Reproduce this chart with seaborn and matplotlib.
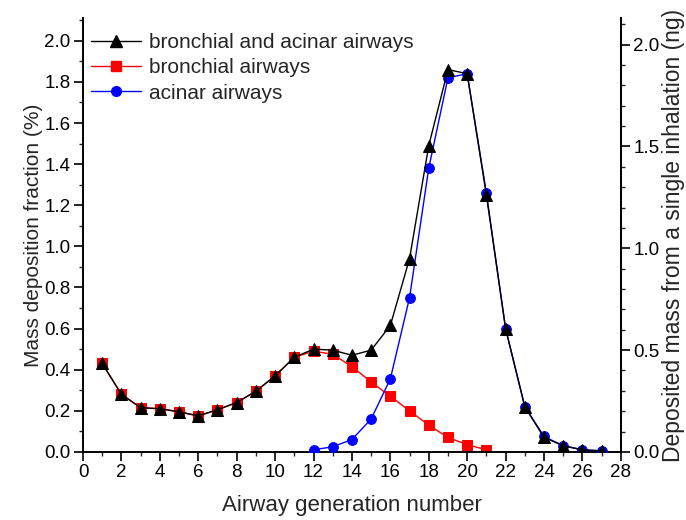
import numpy as np
import pandas as pd
import matplotlib
matplotlib.use("Agg")
import matplotlib.pyplot as plt
import seaborn as sns
from matplotlib.ticker import MultipleLocator, FormatStrFormatter
from matplotlib.lines import Line2D

sns.set_theme(style="white")
plt.rcParams['font.family'] = ['Liberation Sans', 'DejaVu Sans']

gen_total = list(range(1, 28))
total = [0.43, 0.28, 0.215, 0.21, 0.195, 0.175, 0.205, 0.24, 0.295, 0.37, 0.46,
         0.50, 0.495, 0.47, 0.495, 0.615, 0.94, 1.49, 1.86, 1.84, 1.25, 0.60,
         0.22, 0.07, 0.03, 0.01, 0.005]

gen_bronch = list(range(1, 22))
bronch = [0.43, 0.28, 0.215, 0.21, 0.195, 0.175, 0.205, 0.24, 0.295, 0.37, 0.46,
          0.49, 0.475, 0.415, 0.34, 0.27, 0.20, 0.13, 0.07, 0.035, 0.01]

gen_acinar = list(range(12, 28))
acinar = [0.01, 0.025, 0.06, 0.16, 0.355, 0.75, 1.38, 1.82, 1.84, 1.26, 0.60,
          0.22, 0.075, 0.03, 0.01, 0.005]

labels = ["bronchial and acinar airways", "bronchial airways", "acinar airways"]

fig = plt.figure(figsize=(6.86, 5.2), dpi=100)
ax = fig.add_axes([0.121, 0.131, 0.784, 0.834])

sns.lineplot(x=gen_bronch, y=bronch, ax=ax, color="#ff0000", marker="s",
             markersize=6.5, markeredgecolor="#ff0000", linewidth=1.0, zorder=2)
sns.lineplot(x=gen_acinar, y=acinar, ax=ax, color="#0000ff", marker="o",
             markersize=7, markeredgecolor="#0000ff", linewidth=1.0, zorder=3)
sns.lineplot(x=gen_total, y=total, ax=ax, color="black", marker="^",
             markersize=8, markeredgecolor="black", linewidth=1.0, zorder=4)

ax.set_xlim(0, 28)
ax.set_ylim(0, 2.11)
ax.xaxis.set_major_locator(MultipleLocator(2))
ax.xaxis.set_minor_locator(MultipleLocator(1))
ax.yaxis.set_major_locator(MultipleLocator(0.2))
ax.yaxis.set_minor_locator(MultipleLocator(0.1))
ax.yaxis.set_major_formatter(FormatStrFormatter('%.1f'))

for s in ["left", "bottom", "right"]:
    ax.spines[s].set_visible(True)
    ax.spines[s].set_color("black")
    ax.spines[s].set_linewidth(1.4)
ax.spines["top"].set_visible(False)

ax.tick_params(axis="both", which="major", direction="out", length=6.5, width=1.2,
               labelsize=13.5, colors="black", bottom=True, left=True, pad=2.5)
ax.tick_params(axis="both", which="minor", direction="out", length=3.2, width=1.0,
               bottom=True, left=True)
ax.set_xlabel("Airway generation number", fontsize=16, labelpad=10)
ax.set_ylabel("Mass deposition fraction (%)", fontsize=15, labelpad=1)

ax2 = ax.twinx()
ax2.set_ylim(0, 2.13)
ax2.yaxis.set_major_locator(MultipleLocator(0.5))
ax2.yaxis.set_minor_locator(MultipleLocator(0.1))
ax2.yaxis.set_major_formatter(FormatStrFormatter('%.1f'))
for s in ["top", "left", "bottom"]:
    ax2.spines[s].set_visible(False)
ax2.spines["right"].set_color("black")
ax2.spines["right"].set_linewidth(1.4)
ax2.tick_params(axis="y", which="major", direction="out", length=6.5, width=1.2,
                labelsize=13.5, colors="black", right=True, pad=2.5)
ax2.tick_params(axis="y", which="minor", direction="out", length=3.2, width=1.0, right=True)
ax2.set_ylabel("Deposited mass from a single inhalation (ng)", fontsize=16.5, labelpad=2)
ax2.grid(False)
ax.grid(False)

handles = [
    Line2D([], [], color="black", marker="^", markersize=8, linewidth=1.0),
    Line2D([], [], color="#ff0000", marker="s", markersize=6.5, linewidth=1.0),
    Line2D([], [], color="#0000ff", marker="o", markersize=7, linewidth=1.0),
]
ax.legend(handles, labels, loc="upper left", frameon=False, fontsize=15,
          handlelength=2.4, handletextpad=0.35, labelspacing=0.3,
          borderaxespad=0.0, bbox_to_anchor=(0.0, 0.985))

fig.savefig("out.png", dpi=100)
